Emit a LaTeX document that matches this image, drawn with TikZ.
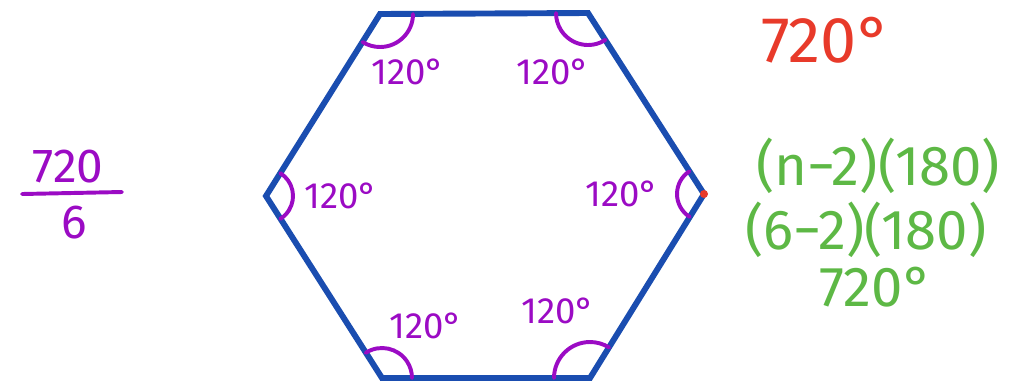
\documentclass[tikz,border=0pt]{standalone}
\usepackage{fontspec}
\setmainfont{Fira Sans}
\usetikzlibrary{calc}
\definecolor{hexc}{HTML}{1A4DB0}
\definecolor{angc}{HTML}{9B0BC4}
\definecolor{sumc}{HTML}{E83A2A}
\definecolor{formc}{HTML}{5DB845}
\tikzset{
  side/.style={line width=4.2pt,hexc,line join=miter},
  ang/.style={line width=2.8pt,angc,line cap=round},
  lbl/.style={angc,font=\fontsize{26}{30}\selectfont,inner sep=0pt},
  frm/.style={formc,font=\fontsize{40}{46}\selectfont,inner sep=0pt}
}
\newcommand{\angarc}[4]{\draw[ang] ([shift={(#2:#4)}]#1) arc[start angle=#2,end angle=#3,radius=#4];}

\begin{document}
\begin{tikzpicture}[x=0.025cm,y=-0.025cm]
\useasboundingbox (0,0) rectangle (1010,384);
% hexagon corners
\coordinate (tl) at (380,14); \coordinate (tr) at (588,13);
\coordinate (rr) at (704,194); \coordinate (br) at (590,378);
\coordinate (bl) at (382,378); \coordinate (ll) at (266,196);
\draw[side] (tl)--(tr)--(rr)--(br)--(bl)--(ll)--cycle;
% angle marks
\angarc{tl}{0}{122}{33}
\angarc{tr}{57}{180}{32}
\angarc{rr}{122}{237}{27}
\angarc{ll}{-58}{58}{27}
\angarc{bl}{237}{360}{30}
\angarc{br}{180}{302}{36}
\fill[sumc] (rr) circle (4);
\node[lbl] (atl) at (408,72) {120°};
\node[lbl] (atr) at (553,72) {120°};
\node[lbl] (all) at (341,196) {120°};
\node[lbl] (arr) at (622,194) {120°};
\node[lbl] (abl) at (426,326) {120°};
\node[lbl] (abr) at (558,311) {120°};
% interior sum
\node[lbl,font=\fontsize{34}{40}\selectfont] (num) at (68,167) {720};
\node[lbl,font=\fontsize{34}{40}\selectfont] (den) at (74,223) {6};
\draw[ang] (22,194)--(122,192);
\node[sumc,font=\fontsize{46}{52}\selectfont,inner sep=0pt] (tot) at (826,40) {720°};
\node[frm] (f1) at (878,166) {(n−2)(180)};
\node[frm] (f2) at (866,230) {(6−2)(180)};
\node[frm] (f3) at (876,287) {720°};
\end{tikzpicture}
\end{document}
